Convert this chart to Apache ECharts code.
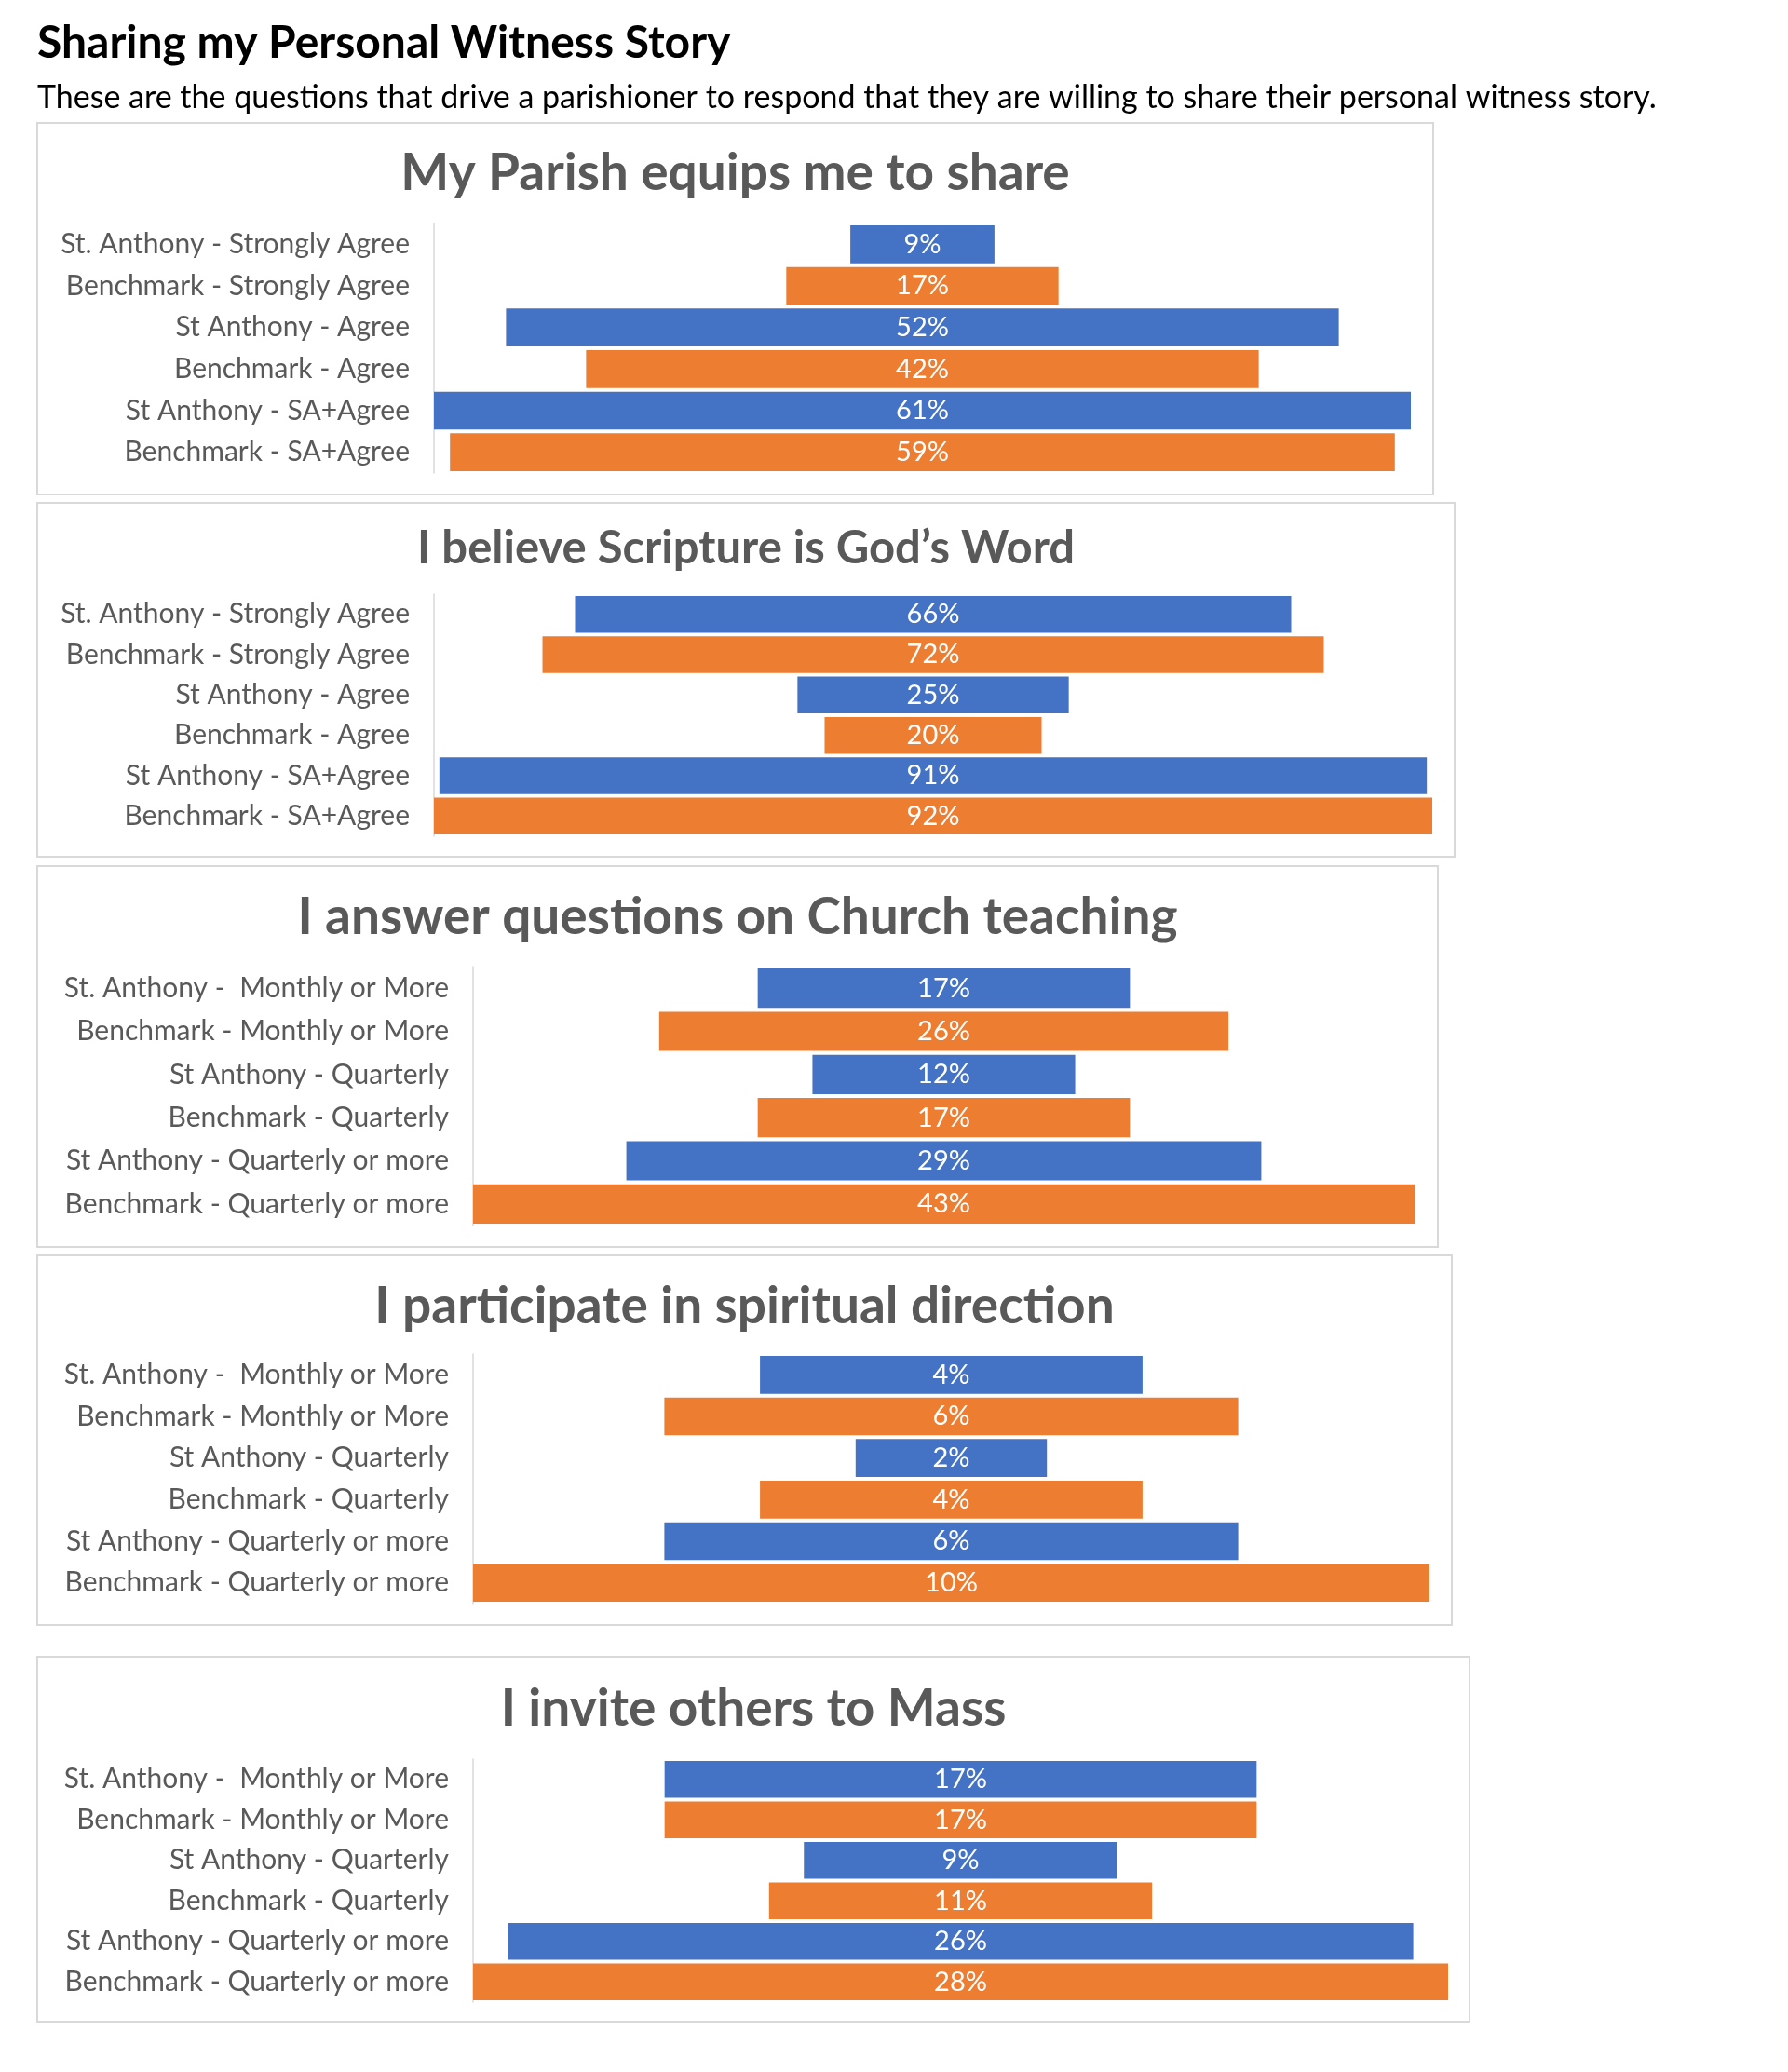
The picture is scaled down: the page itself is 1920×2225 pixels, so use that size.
<!DOCTYPE html>
<html style="height: 100%">
<head>
    <meta charset="utf-8">
</head>
<body style="height: 100%; margin: 0; background: #fff">
<div id="container" style="width:1920px;height:2225px"></div>
<script type="text/javascript" src="https://cdn.jsdelivr.net/npm/echarts@6/dist/echarts.min.js"></script>

<script type="text/javascript">

    var pageTitle = 'Sharing my Personal Witness Story';
    var pageSubtitle = 'These are the questions that drive a parishioner to respond that they are willing to share their personal witness story.';

    var chartTitles = [
        'My Parish equips me to share',
        'I believe Scripture is God\u2019s Word',
        'I answer questions on Church teaching',
        'I participate in spiritual direction',
        'I invite others to Mass'
    ];

    var agreeCats = ['St. Anthony - Strongly Agree', 'Benchmark - Strongly Agree', 'St Anthony - Agree',
        'Benchmark - Agree', 'St Anthony - SA+Agree', 'Benchmark - SA+Agree'];
    var freqCats = ['St. Anthony -  Monthly or More', 'Benchmark - Monthly or More', 'St Anthony - Quarterly',
        'Benchmark - Quarterly', 'St Anthony - Quarterly or more', 'Benchmark - Quarterly or more'];

    var equipsVals = [9, 17, 52, 42, 61, 59];
    var scriptureVals = [66, 72, 25, 20, 91, 92];
    var answerVals = [17, 26, 12, 17, 29, 43];
    var directionVals = [4, 6, 2, 4, 6, 10];
    var inviteVals = [17, 17, 9, 11, 26, 28];

    var BLUE = '#4472C4', ORANGE = '#ED7D31', GREY = '#595959';
    var FONT = 'Lato, "Open Sans", sans-serif';

    // one entry per panel: data + where it sits on the page
    var panels = [
        {cats: agreeCats, vals: equipsVals, box: [40, 132, 1499, 399], grid: [466, 240, 1049, 268], titleY: 186, titleSize: 55},
        {cats: agreeCats, vals: scriptureVals, box: [40, 540, 1522, 380], grid: [466, 638, 1072, 260], titleY: 589, titleSize: 49},
        {cats: freqCats, vals: answerVals, box: [40, 930, 1504, 409], grid: [508, 1038, 1011, 278], titleY: 985, titleSize: 55},
        {cats: freqCats, vals: directionVals, box: [40, 1348, 1519, 397], grid: [508, 1454, 1027, 268], titleY: 1403, titleSize: 55},
        {cats: freqCats, vals: inviteVals, box: [40, 1779, 1538, 392], grid: [508, 1889, 1047, 261], titleY: 1835, titleSize: 55}
    ];

    var dom = document.getElementById('container');
    var myChart = echarts.init(dom);

    var grids = [], xAxes = [], yAxes = [], series = [];
    var graphics = [
        {type: 'text', x: 40, y: 47, style: {text: pageTitle, font: 'bold 48px ' + FONT, fill: '#000', align: 'left', verticalAlign: 'middle'}},
        {type: 'text', x: 40, y: 105, style: {text: pageSubtitle, font: '34px ' + FONT, fill: '#000', align: 'left', verticalAlign: 'middle'}}
    ];

    panels.forEach(function (p, i) {
        var max = Math.max.apply(null, p.vals);
        graphics.push({
            type: 'rect', z: -10,
            shape: {x: p.box[0], y: p.box[1], width: p.box[2], height: p.box[3]},
            style: {fill: '#fff', stroke: '#d9d9d9', lineWidth: 2}
        });
        graphics.push({
            type: 'text', x: p.box[0] + p.box[2] / 2, y: p.titleY,
            style: {text: chartTitles[i], font: 'bold ' + p.titleSize + 'px ' + FONT, fill: GREY, align: 'center', verticalAlign: 'middle'}
        });
        grids.push({left: p.grid[0], top: p.grid[1], width: p.grid[2], height: p.grid[3]});
        xAxes.push({type: 'value', gridIndex: i, min: 0, max: max, show: false});
        yAxes.push({
            type: 'category', gridIndex: i, data: p.cats, inverse: true,
            axisLine: {show: true, lineStyle: {color: '#d9d9d9', width: 1.5}},
            axisTick: {show: false},
            axisLabel: {color: GREY, fontSize: 30, fontFamily: FONT, margin: 26}
        });
        // transparent spacer so the bars sit centred
        series.push({
            type: 'bar', xAxisIndex: i, yAxisIndex: i, stack: 's' + i, silent: true,
            barCategoryGap: '9%',
            itemStyle: {color: 'rgba(0,0,0,0)'},
            data: p.vals.map(function (v) { return (max - v) / 2; })
        });
        series.push({
            type: 'bar', xAxisIndex: i, yAxisIndex: i, stack: 's' + i,
            barCategoryGap: '9%',
            data: p.vals.map(function (v, j) {
                return {value: v, itemStyle: {color: j % 2 ? ORANGE : BLUE}};
            }),
            label: {
                show: true, position: 'inside', formatter: '{c}%',
                color: '#fff', fontSize: 29, fontFamily: FONT
            }
        });
    });

    var option = {
        animation: false,
        backgroundColor: '#fff',
        grid: grids,
        xAxis: xAxes,
        yAxis: yAxes,
        graphic: graphics,
        series: series
    };
    myChart.setOption(option);

</script>

</body>
</html>
